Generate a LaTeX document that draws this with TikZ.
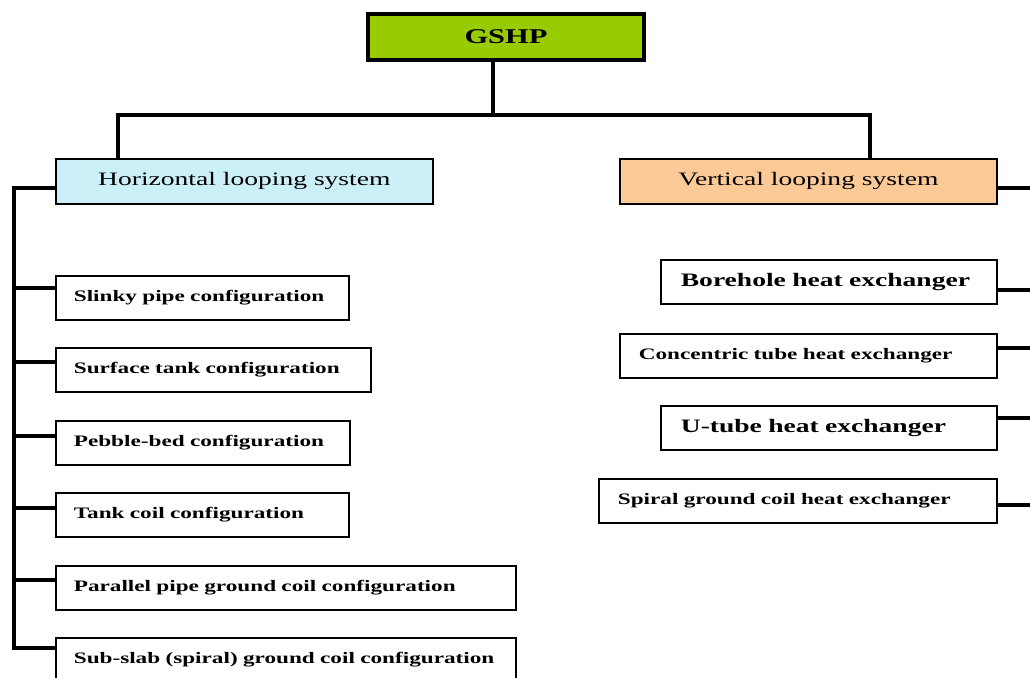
\documentclass[tikz,border=0pt]{standalone}
\usepackage{fontspec}
\setmainfont{Liberation Serif}[FakeStretch=1.45]
\definecolor{gshpgreen}{HTML}{99CC00}
\definecolor{horblue}{HTML}{CCF0F8}
\definecolor{vertorange}{HTML}{FCCA96}
\begin{document}
\begin{tikzpicture}[x=1pt, y=-1pt,
    top/.style = {draw, line width=4pt, fill=gshpgreen, anchor=north west, minimum width=276, minimum height=46, font=\bfseries\fontsize{21}{24}\selectfont},
    loop/.style = {draw, line width=1.7pt, anchor=north west, minimum width=377, minimum height=45, font=\fontsize{19}{22}\selectfont},
    conf/.style = {draw, line width=1.7pt, anchor=north west, minimum height=44, inner xsep=18pt, align=left, font=\bfseries\fontsize{16}{19}\selectfont},
    big/.style = {conf, inner xsep=20pt, font=\bfseries\fontsize{19}{22}\selectfont},
    link/.style = {line width=3.6pt}]
    \clip (0,0) rectangle (1030,677);
    \node[top] (gshp) at (366,12) {GSHP};
    \node[loop, fill=horblue] (hor) at (55,158) {Horizontal looping system};
    \node[loop, fill=vertorange] (ver) at (619,158) {Vertical looping system};
    % horizontal configurations
    \node[conf, text width=257] (s1) at (55,275) {Slinky pipe configuration};
    \node[conf, text width=279] (s2) at (55,347) {Surface tank configuration};
    \node[conf, text width=258] (s3) at (55,420) {Pebble-bed configuration};
    \node[conf, text width=257] (s4) at (55,492) {Tank coil configuration};
    \node[conf, text width=424] (s5) at (55,565) {Parallel pipe ground coil configuration};
    \node[conf, text width=424] (s6) at (55,637) {Sub-slab (spiral) ground coil configuration};
    % vertical heat exchangers
    \node[big, text width=296] (v1) at (660,259) {Borehole heat exchanger};
    \node[conf, inner xsep=19pt, text width=339] (v2) at (619,333) {Concentric tube heat exchanger};
    \node[big, text width=296] (v3) at (660,405) {U-tube heat exchanger};
    \node[conf, inner xsep=19pt, text width=360] (v4) at (598,478) {Spiral ground coil heat exchanger};
    % joints
    \coordinate (bar) at (493,115);
    \coordinate (lspine) at (14,0);
    \coordinate (rspine) at (1030,0);
    \coordinate (horin) at ([yshift=-30]hor.north west);
    \coordinate (verin) at ([yshift=-30]ver.north east);
    \coordinate (s1in) at ([yshift=-13]s1.north west);
    \coordinate (s2in) at ([yshift=-15]s2.north west);
    \coordinate (s3in) at ([yshift=-16]s3.north west);
    \coordinate (s4in) at ([yshift=-16]s4.north west);
    \coordinate (s5in) at ([yshift=-15]s5.north west);
    \coordinate (s6in) at ([yshift=-11]s6.north west);
    \coordinate (v1in) at ([yshift=-31]v1.north east);
    \coordinate (v2in) at ([yshift=-15]v2.north east);
    \coordinate (v3in) at ([yshift=-13]v3.north east);
    \coordinate (v4in) at ([yshift=-27]v4.north east);
    \draw[link] (gshp.south -| bar) -- (bar);
    \draw[link] ([xshift=63]hor.north west) |- (bar) -| ([xshift=251]ver.north west);
    \draw[link] (horin) -| (lspine |- s6in) -- (s6in);
    \draw[link] (s1in) -- (lspine |- s1in);
    \draw[link] (s2in) -- (lspine |- s2in);
    \draw[link] (s3in) -- (lspine |- s3in);
    \draw[link] (s4in) -- (lspine |- s4in);
    \draw[link] (s5in) -- (lspine |- s5in);
    \draw[link] (verin) -- (rspine |- verin);
    \draw[link] (v1in) -- (rspine |- v1in);
    \draw[link] (v2in) -- (rspine |- v2in);
    \draw[link] (v3in) -- (rspine |- v3in);
    \draw[link] (v4in) -- (rspine |- v4in);
\end{tikzpicture}
\end{document}
